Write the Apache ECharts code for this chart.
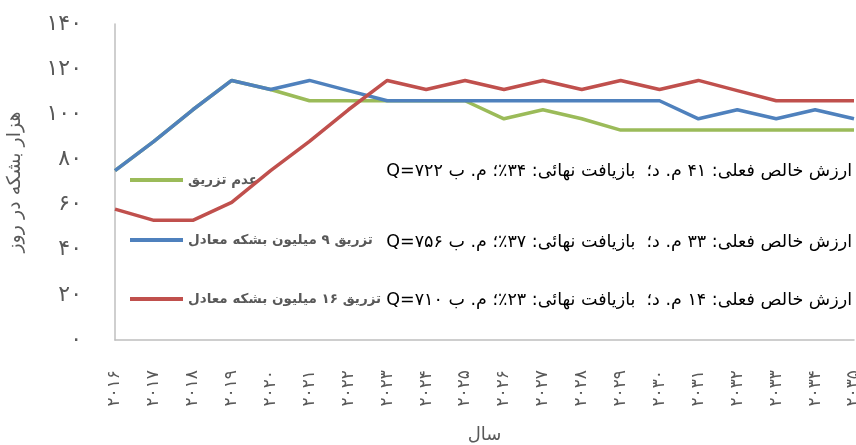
<!DOCTYPE html>
<html lang="fa">
<head>
    <meta charset="UTF-8">
    <title>تولید روزانه</title>
    <script src="https://cdn.jsdelivr.net/npm/echarts@6/dist/echarts.min.js"></script>
    <style>
        html, body { margin: 0; padding: 0; background: #fff; }
        #main { width: 856px; height: 445px; }
    </style>
</head>
<body>
<div id="main"></div>
<script>
    // سال ها
    var years = ['۲۰۱۶', '۲۰۱۷', '۲۰۱۸', '۲۰۱۹', '۲۰۲۰', '۲۰۲۱', '۲۰۲۲', '۲۰۲۳', '۲۰۲۴', '۲۰۲۵',
                 '۲۰۲۶', '۲۰۲۷', '۲۰۲۸', '۲۰۲۹', '۲۰۳۰', '۲۰۳۱', '۲۰۳۲', '۲۰۳۳', '۲۰۳۴', '۲۰۳۵'];

    // هزار بشکه در روز
    var noInjection = [75, 88, 102, 115, 111, 106, 106, 106, 106, 106, 98, 102, 98, 93, 93, 93, 93, 93, 93, 93];
    var inject9 = [75, 88, 102, 115, 111, 115, 110.5, 106, 106, 106, 106, 106, 106, 106, 106, 98, 102, 98, 102, 98];
    var inject16 = [58, 53, 53, 61, 75, 88, 102, 115, 111, 115, 111, 115, 111, 115, 111, 115, 110.5, 106, 106, 106];

    var seriesNames = ['عدم تزریق', 'تزریق ۹ میلیون بشکه معادل', 'تزریق ۱۶ میلیون بشکه معادل'];
    var seriesColors = ['#9BBB59', '#4F81BD', '#C0504D'];

    // متن های کنار نمودار
    var notes = [
        'ارزش خالص فعلی: ۴۱ م. د؛  بازیافت نهائی: ۳۴٪؛ م. ب Q=۷۲۲',
        'ارزش خالص فعلی: ۳۳ م. د؛  بازیافت نهائی: ۳۷٪؛ م. ب Q=۷۵۶',
        'ارزش خالص فعلی: ۱۴ م. د؛  بازیافت نهائی: ۲۳٪؛ م. ب Q=۷۱۰'
    ];

    var faDigits = '۰۱۲۳۴۵۶۷۸۹';
    function toFa(v) {
        return String(v).replace(/[0-9]/g, function (d) { return faDigits[+d]; });
    }

    var font = 'DejaVu Sans';
    var legendTops = [173, 233, 292];
    var noteTops = [172, 243, 301];

    var myCharts = echarts.init(document.getElementById('main'));

    var legends = [];
    for (var i = 0; i < seriesNames.length; i++) {
        legends.push({
            data: [seriesNames[i]],
            left: 130,
            top: legendTops[i],
            padding: 0,
            z: 1,
            icon: 'rect',
            itemWidth: 53,
            itemHeight: 4,
            itemGap: 6,
            textStyle: {
                fontFamily: font,
                fontSize: 13.5,
                fontWeight: 'bold',
                color: '#595959'
            }
        });
    }

    var graphics = [];
    for (var j = 0; j < notes.length; j++) {
        graphics.push({
            type: 'text',
            right: 4,
            top: noteTops[j] - 10,
            style: {
                text: '\u202B' + notes[j] + '\u202C',
                fontFamily: font,
                fontSize: 17.5,
                fill: '#000'
            }
        });
    }

    var dataSets = [noInjection, inject9, inject16];
    var serie = [];
    for (var k = 0; k < dataSets.length; k++) {
        serie.push({
            name: seriesNames[k],
            type: 'line',
            data: dataSets[k],
            symbol: 'none',
            color: seriesColors[k],
            lineStyle: { width: 3.5, color: seriesColors[k] },
            z: 2 + k
        });
    }

    var option = {
        animation: false,
        backgroundColor: '#fff',
        grid: { left: 115, right: 2, top: 24, bottom: 105, outerBoundsMode: 'none', containLabel: false },
        legend: legends,
        graphic: graphics,
        xAxis: {
            type: 'category',
            data: years,
            boundaryGap: false,
            name: 'سال',
            nameLocation: 'middle',
            nameGap: 86,
            nameMoveOverlap: false,
            nameTextStyle: { fontFamily: font, fontSize: 18, color: '#595959' },
            axisLine: { lineStyle: { color: '#BFBFBF', width: 1.5 } },
            axisTick: { show: false },
            axisLabel: {
                rotate: 90,
                interval: 0,
                margin: 30,
                fontFamily: font,
                fontSize: 17,
                color: '#595959'
            },
            splitLine: { show: false }
        },
        yAxis: {
            type: 'value',
            min: 0,
            max: 140,
            interval: 20,
            name: 'هزار بشکه در روز',
            nameLocation: 'middle',
            nameRotate: 90,
            nameGap: 90,
            nameMoveOverlap: false,
            nameTextStyle: { fontFamily: font, fontSize: 19, color: '#595959' },
            axisLine: { show: true, lineStyle: { color: '#BFBFBF', width: 1.5 } },
            axisTick: { show: false },
            axisLabel: {
                margin: 33,
                fontFamily: font,
                fontSize: 22,
                color: '#595959',
                formatter: function (v) { return toFa(v); }
            },
            splitLine: { show: false }
        },
        series: serie
    };

    myCharts.setOption(option);
</script>
</body>
</html>
